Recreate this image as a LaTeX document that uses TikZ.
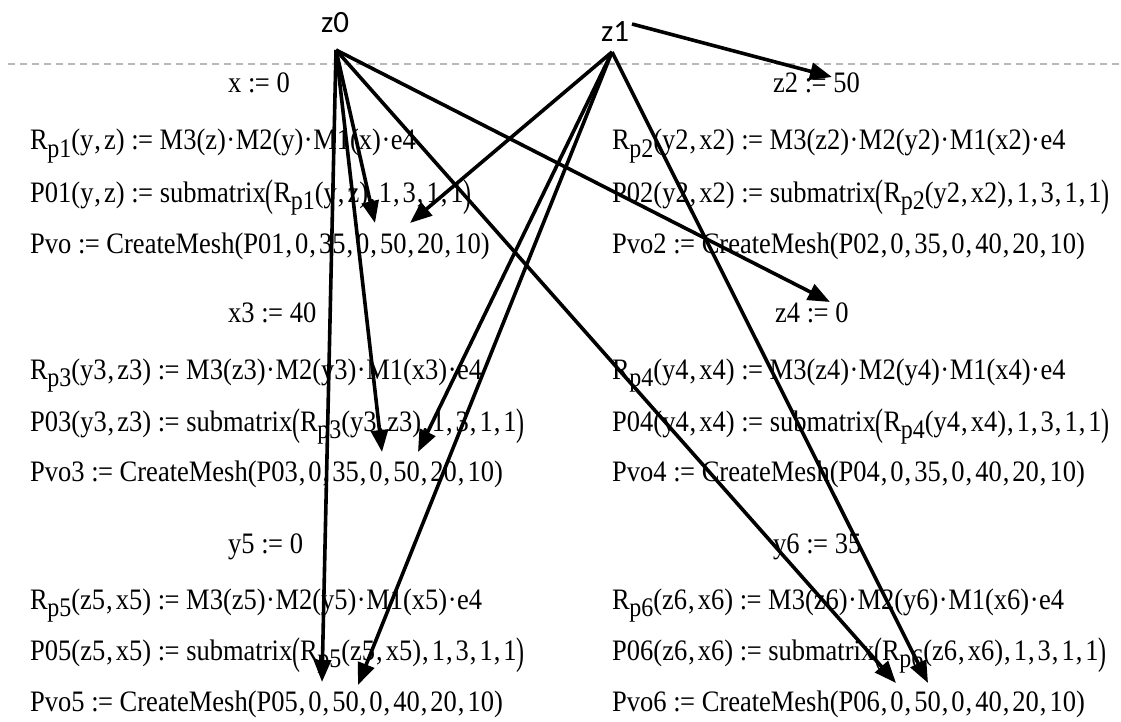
\documentclass[tikz,border=0pt]{standalone}
\usepackage{graphicx}
\usepackage{fontspec}
\setmainfont{Liberation Serif}
\newfontfamily\lblfont{Carlito}
\usetikzlibrary{arrows.meta}
\newcommand\asg{\ :\kern-0.5pt=\ }
\newcommand\cmm{\kern1pt,\kern3pt}
\newcommand\mdot{\kern0.5pt\textperiodcentered\kern0.5pt}
\newcommand\Rp[1]{R\kern-0.5pt\raisebox{-7pt}{\fontsize{24}{24}\selectfont p#1}}
\newcommand\Lbr{\raisebox{-4pt}{\scalebox{0.9}[1.3]{(}}}
\newcommand\Rbr{\raisebox{-4pt}{\scalebox{0.9}[1.3]{)}}}
\newcommand\T[1]{\scalebox{1}[1.12]{#1}}
\begin{document}
\begin{tikzpicture}[x=1pt,y=-1pt,
  txt/.style={anchor=base west, inner sep=0pt, font=\fontsize{26.5}{30}\selectfont},
  lbl/.style={font=\lblfont\fontsize{31}{31}\selectfont, inner sep=0pt},
  arr/.style={line width=3.6pt, -{Triangle[length=22pt,width=17pt]}}]
\useasboundingbox (0,0) rectangle (1121,722);
\draw[black!28, line width=1.3pt, dash pattern=on 7pt off 5pt] (8,64) -- (1121,64);

\node[lbl] (z0) at (335,23) {z0};
\node[lbl] (z1) at (615,32) {z1};
\coordinate (z0a) at (336,50);
\coordinate (z1a) at (612,52);
\coordinate (z1e) at (632,24);

% group 1
\node[txt] (h1) at (228,93) {\T{x\asg 0}};
\node[txt] (r1) at (30,150) {\T{\Rp1(y\cmm z)\asg M3(z)\mdot M2(y)\mdot M1(x)\mdot e4}};
\node[txt] (s1) at (30,202) {\T{P01(y\cmm z)\asg submatrix\Lbr\Rp1(y\cmm z)\cmm 1\cmm 3\cmm 1\cmm 1\Rbr}};
\node[txt] (c1) at (30,253) {\T{Pvo\asg CreateMesh(P01\cmm 0\cmm 35\cmm 0\cmm 50\cmm 20\cmm 10)}};
\node[txt] (h2) at (773,93) {\T{z2\asg 50}};
\node[txt] (r2) at (612,150) {\T{\Rp2(y2\cmm x2)\asg M3(z2)\mdot M2(y2)\mdot M1(x2)\mdot e4}};
\node[txt] (s2) at (612,202) {\T{P02(y2\cmm x2)\asg submatrix\Lbr\Rp2(y2\cmm x2)\cmm 1\cmm 3\cmm 1\cmm 1\Rbr}};
\node[txt] (c2) at (612,253) {\T{Pvo2\asg CreateMesh(P02\cmm 0\cmm 35\cmm 0\cmm 40\cmm 20\cmm 10)}};
% group 2
\node[txt] (h3) at (228,322) {\T{x3\asg 40}};
\node[txt] (r3) at (30,379) {\T{\Rp3(y3\cmm z3)\asg M3(z3)\mdot M2(y3)\mdot M1(x3)\mdot e4}};
\node[txt] (s3) at (30,431) {\T{P03(y3\cmm z3)\asg submatrix\Lbr\Rp3(y3\cmm z3)\cmm 1\cmm 3\cmm 1\cmm 1\Rbr}};
\node[txt] (c3) at (30,481) {\T{Pvo3\asg CreateMesh(P03\cmm 0\cmm 35\cmm 0\cmm 50\cmm 20\cmm 10)}};
\node[txt] (h4) at (775,322) {\T{z4\asg 0}};
\node[txt] (r4) at (612,379) {\T{\Rp4(y4\cmm x4)\asg M3(z4)\mdot M2(y4)\mdot M1(x4)\mdot e4}};
\node[txt] (s4) at (612,431) {\T{P04(y4\cmm x4)\asg submatrix\Lbr\Rp4(y4\cmm x4)\cmm 1\cmm 3\cmm 1\cmm 1\Rbr}};
\node[txt] (c4) at (612,481) {\T{Pvo4\asg CreateMesh(P04\cmm 0\cmm 35\cmm 0\cmm 40\cmm 20\cmm 10)}};
% group 3
\node[txt] (h5) at (228,553) {\T{y5\asg 0}};
\node[txt] (r5) at (30,609) {\T{\Rp5(z5\cmm x5)\asg M3(z5)\mdot M2(y5)\mdot M1(x5)\mdot e4}};
\node[txt] (s5) at (30,660) {\T{P05(z5\cmm x5)\asg submatrix\Lbr\Rp5(z5\cmm x5)\cmm 1\cmm 3\cmm 1\cmm 1\Rbr}};
\node[txt] (c5) at (30,711) {\T{Pvo5\asg CreateMesh(P05\cmm 0\cmm 50\cmm 0\cmm 40\cmm 20\cmm 10)}};
\node[txt] (h6) at (773,553) {\T{y6\asg 35}};
\node[txt] (r6) at (612,609) {\T{\Rp6(z6\cmm x6)\asg M3(z6)\mdot M2(y6)\mdot M1(x6)\mdot e4}};
\node[txt] (s6) at (612,660) {\T{P06(z6\cmm x6)\asg submatrix\Lbr\Rp6(z6\cmm x6)\cmm 1\cmm 3\cmm 1\cmm 1\Rbr}};
\node[txt] (c6) at (612,711) {\T{Pvo6\asg CreateMesh(P06\cmm 0\cmm 50\cmm 0\cmm 40\cmm 20\cmm 10)}};

% arrow targets
\coordinate (t1) at (375,223);
\coordinate (t2) at (410,223);
\coordinate (t3) at (382,452);
\coordinate (t4) at (418,452);
\coordinate (t5) at (322,682);
\coordinate (t6) at (358,685);
\coordinate (t7) at (830,302);
\coordinate (t8) at (896,683);
\coordinate (t9) at (928,683);
\coordinate (t10) at (832,77);

\draw[arr] (z0a) -- (t1);
\draw[arr] (z0a) -- (t3);
\draw[arr] (z0a) -- (t5);
\draw[arr] (z0a) -- (t7);
\draw[arr] (z0a) -- (t8);
\draw[arr] (z1a) -- (t2);
\draw[arr] (z1a) -- (t4);
\draw[arr] (z1a) -- (t6);
\draw[arr] (z1a) -- (t9);
\draw[arr] (z1e) -- (t10);
\end{tikzpicture}
\end{document}
